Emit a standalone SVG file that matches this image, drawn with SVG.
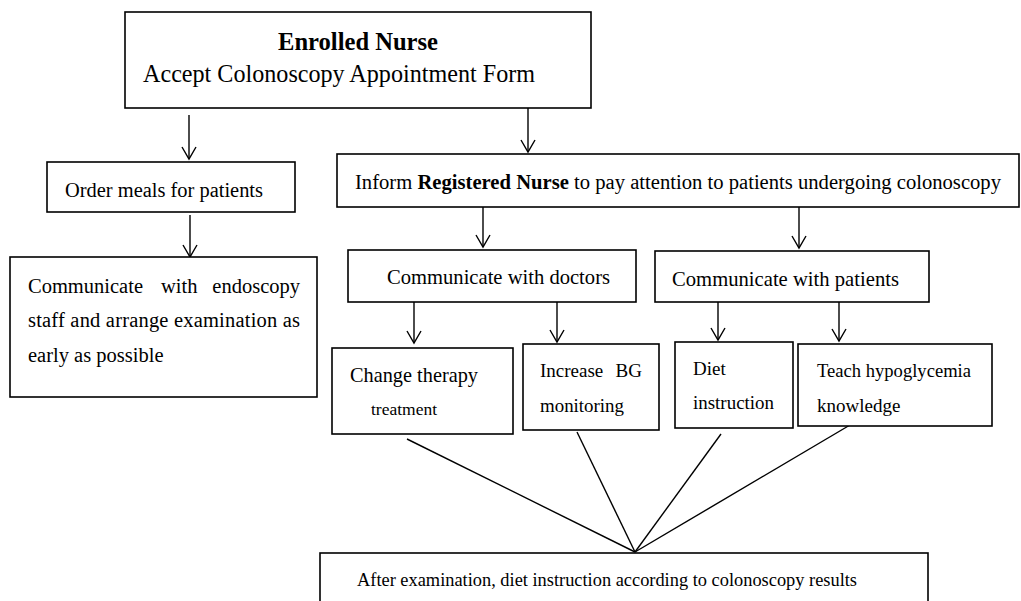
<svg xmlns="http://www.w3.org/2000/svg" width="1021" height="601" viewBox="0 0 1021 601">
<defs>
<style>
.box{fill:#fff;stroke:#000;stroke-width:1.6}
.ln{stroke:#000;stroke-width:1.4;fill:none}
.arr{stroke:#000;stroke-width:1.4;fill:none;marker-end:url(#arrow)}
text{font-family:"Liberation Serif","Times New Roman",serif;fill:#000}
.t20{font-size:20.5px}
.t19{font-size:19px}
.b{font-weight:bold}
</style>
<marker id="arrow" markerUnits="userSpaceOnUse" viewBox="-1 -1 16 16" markerWidth="16" markerHeight="16" refX="12" refY="7" orient="auto">
<path d="M0,0 L12,7 L0,14" fill="none" stroke="#000" stroke-width="1.4"/>
</marker>
</defs>
<rect width="1021" height="601" fill="#fff"/>
<g id="connectors">
<line class="arr" x1="189" y1="115" x2="189" y2="159"/>
<line class="arr" x1="528" y1="108" x2="528" y2="152"/>
<line class="arr" x1="190" y1="215" x2="190" y2="257"/>
<line class="arr" x1="483" y1="207" x2="483" y2="247"/>
<line class="arr" x1="799" y1="207" x2="799" y2="248"/>
<line class="arr" x1="414" y1="302" x2="414" y2="343"/>
<line class="arr" x1="557" y1="302" x2="557" y2="342"/>
<line class="arr" x1="718" y1="302" x2="718" y2="340"/>
<line class="arr" x1="839" y1="302" x2="839" y2="341"/>
<line class="ln" x1="407" y1="439" x2="635" y2="552"/>
<line class="ln" x1="577" y1="432" x2="635" y2="552"/>
<line class="ln" x1="721" y1="434" x2="635" y2="552"/>
<line class="ln" x1="850" y1="425" x2="635" y2="552"/>
</g>
<g id="enrolled">
<rect class="box" x="125" y="12" width="466" height="96"/>
<text class="b" x="278" y="50" font-size="25" textLength="160" lengthAdjust="spacingAndGlyphs">Enrolled Nurse</text>
<text x="143" y="82" font-size="24.5" textLength="392" lengthAdjust="spacingAndGlyphs">Accept Colonoscopy Appointment Form</text>
</g>
<g id="order-meals">
<rect class="box" x="47" y="162" width="248" height="50"/>
<text class="t20" x="65" y="197" textLength="198" lengthAdjust="spacingAndGlyphs">Order meals for patients</text>
</g>
<g id="endoscopy">
<rect class="box" x="10" y="257" width="307" height="140"/>
<text class="t20" x="28" y="293">Communicate</text>
<text class="t20" x="161" y="293">with</text>
<text class="t20" x="300" y="293" text-anchor="end">endoscopy</text>
<text class="t20" x="28" y="327" textLength="272" lengthAdjust="spacing">staff and arrange examination as</text>
<text class="t20" x="28" y="362">early as possible</text>
</g>
<g id="inform">
<rect class="box" x="337" y="154" width="682" height="53"/>
<text x="355" y="189" font-size="20.5" textLength="646" lengthAdjust="spacingAndGlyphs">Inform <tspan class="b">Registered Nurse</tspan>  to pay attention to patients undergoing colonoscopy</text>
</g>
<g id="doctors">
<rect class="box" x="348" y="250" width="288" height="52"/>
<text x="387" y="284" font-size="21" textLength="223" lengthAdjust="spacingAndGlyphs">Communicate with doctors</text>
</g>
<g id="patients">
<rect class="box" x="655" y="251" width="274" height="51"/>
<text x="672" y="286" font-size="21" textLength="227" lengthAdjust="spacingAndGlyphs">Communicate with patients</text>
</g>
<g id="change-therapy">
<rect class="box" x="332" y="348" width="181" height="86"/>
<text x="350" y="382" font-size="21" textLength="128" lengthAdjust="spacingAndGlyphs">Change therapy</text>
<text x="371" y="415" font-size="17" textLength="66" lengthAdjust="spacingAndGlyphs">treatment</text>
</g>
<g id="increase-bg">
<rect class="box" x="523" y="344" width="136" height="86"/>
<text class="t19" x="540" y="377">Increase</text>
<text class="t19" x="642" y="377" text-anchor="end">BG</text>
<text class="t19" x="540" y="412" textLength="84" lengthAdjust="spacingAndGlyphs">monitoring</text>
</g>
<g id="diet">
<rect class="box" x="675" y="342" width="118" height="86"/>
<text class="t19" x="693" y="375">Diet</text>
<text class="t19" x="693" y="409" textLength="81" lengthAdjust="spacingAndGlyphs">instruction</text>
</g>
<g id="teach">
<rect class="box" x="798" y="344" width="194" height="82"/>
<text class="t19" x="817" y="377" textLength="154" lengthAdjust="spacingAndGlyphs">Teach hypoglycemia</text>
<text class="t19" x="817" y="412">knowledge</text>
</g>
<g id="after">
<rect class="box" x="320" y="553" width="608" height="60"/>
<text x="357" y="586" font-size="18.5" textLength="500" lengthAdjust="spacingAndGlyphs">After examination, diet instruction according to colonoscopy results</text>
</g>
</svg>
